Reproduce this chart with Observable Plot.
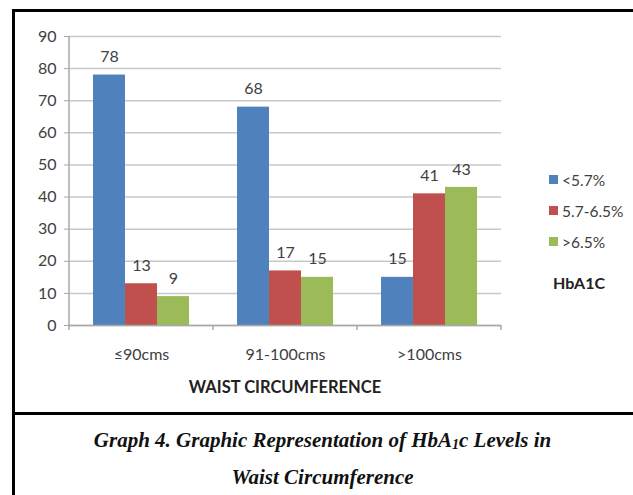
<!DOCTYPE html>
<html>
<head>
<meta charset="utf-8">
<script src="https://cdn.jsdelivr.net/npm/d3@7"></script>
<script src="https://cdn.jsdelivr.net/npm/@observablehq/plot@0.6"></script>
<style>
  html, body { margin: 0; padding: 0; background: #fff; }
  #wrap { position: relative; width: 633px; height: 495px; overflow: hidden; font-family: Lato, "Open Sans", sans-serif; }
  #box { position: absolute; left: 12px; top: 9px; width: 700px; height: 600px; border-left: 3px solid #000; border-top: 3px solid #000; }
  #divider { position: absolute; left: 12px; top: 412px; width: 700px; height: 3px; background: #000; }
  #chart { position: absolute; left: 0; top: 0; }
  #legend { position: absolute; left: 549px; top: 164px; font-size: 15.5px; color: #404040; }
  #legend .row { display: flex; align-items: center; height: 31px; }
  #legend .sw { width: 9px; height: 9px; margin-right: 4px; }
  #legendTitle { position: absolute; left: 553px; top: 273px; font-weight: bold; font-size: 16px; color: #222; }
  #xtitle { position: absolute; left: 68px; width: 434px; text-align: center; top: 377px; font-weight: bold; font-size: 16.5px; color: #222; }
  .cap { position: absolute; left: 12px; width: 621px; text-align: center; font-family: "Liberation Serif", serif; font-weight: bold; font-style: italic; font-size: 21px; color: #111; }
  .cap sub { font-size: 14px; vertical-align: -2px; }
</style>
</head>
<body>
<div id="wrap">
  <div id="box"></div>
  <div id="divider"></div>
  <div id="chart"></div>
  <div id="legend"></div>
  <div id="legendTitle"></div>
  <div id="xtitle"></div>
  <div class="cap" style="top:428px">Graph 4. Graphic Representation of HbA<sub>1</sub>c Levels in</div>
  <div class="cap" style="top:465px">Waist Circumference</div>
</div>
<script>
// ---- data ----
const groups = ["≤90cms", "91-100cms", ">100cms"];
const series = ["<5.7%", "5.7-6.5%", ">6.5%"];
const valuesLow = [78, 68, 15];     // <5.7%
const valuesMid = [13, 17, 41];     // 5.7-6.5%
const valuesHigh = [9, 15, 43];     // >6.5%
const colors = ["#4F81BD", "#C0504D", "#9BBB59"];
const yTicks = [0, 10, 20, 30, 40, 50, 60, 70, 80, 90];
const xTitle = "WAIST CIRCUMFERENCE";
const legendTitle = "HbA1C";

const seriesValues = [valuesLow, valuesMid, valuesHigh];
const table = [];
groups.forEach((g, gi) => series.forEach((s, si) => table.push({group: g, series: s, value: seriesValues[si][gi]})));

const plot = Plot.plot({
  width: 633,
  height: 413,
  marginTop: 36,
  marginBottom: 88,
  marginLeft: 68,
  marginRight: 131,
  style: {fontFamily: "Lato, 'Open Sans', sans-serif", fontSize: "16px", color: "#404040", background: "transparent"},
  fx: {domain: groups, padding: 0},
  x: {domain: series, paddingInner: 0, paddingOuter: 0.75, axis: null},
  y: {domain: [0, 90]},
  color: {domain: series, range: colors},
  marks: [
    Plot.gridY(yTicks, {stroke: "#c8c8c8", strokeOpacity: 1, strokeWidth: 1.5}),
    Plot.axisY(yTicks, {tickSize: 5, tickPadding: 8, stroke: "#a8a8a8", fill: "#404040", fontSize: 16, label: null}),
    Plot.axisFx({anchor: "bottom", tickSize: 0, tickPadding: 23, fontSize: 16, fill: "#404040", label: null}),
    Plot.barY(table, {fx: "group", x: "series", y: "value", fill: "series"}),
    Plot.ruleY([0], {stroke: "#a8a8a8", strokeWidth: 1.5}),
    Plot.text(table, {fx: "group", x: "series", y: "value", text: d => String(d.value), dy: -18, fontSize: 16, fill: "#404040"})
  ]
});
document.getElementById("chart").appendChild(plot);

// Excel-style boundary ticks and left axis line, positioned via the Plot scales
const fx = plot.scale("fx");
const y = plot.scale("y");
const svg = d3.select(plot);
const y0 = y.apply(0), yTop = y.apply(90);
const bounds = groups.map(g => fx.apply(g)).concat([fx.apply(groups[groups.length - 1]) + fx.bandwidth]);
const g = svg.append("g").attr("stroke", "#a8a8a8").attr("stroke-width", 1.5);
bounds.forEach(b => g.append("line").attr("x1", b).attr("x2", b).attr("y1", y0).attr("y2", y0 + 5));
g.append("line").attr("x1", bounds[0]).attr("x2", bounds[0]).attr("y1", yTop).attr("y2", y0);

// legend
const legend = d3.select("#legend");
series.forEach((s, i) => {
  const row = legend.append("div").attr("class", "row");
  row.append("div").attr("class", "sw").style("background", colors[i]);
  row.append("span").text(s);
});
document.getElementById("legendTitle").textContent = legendTitle;
document.getElementById("xtitle").textContent = xTitle;
</script>
</body>
</html>
